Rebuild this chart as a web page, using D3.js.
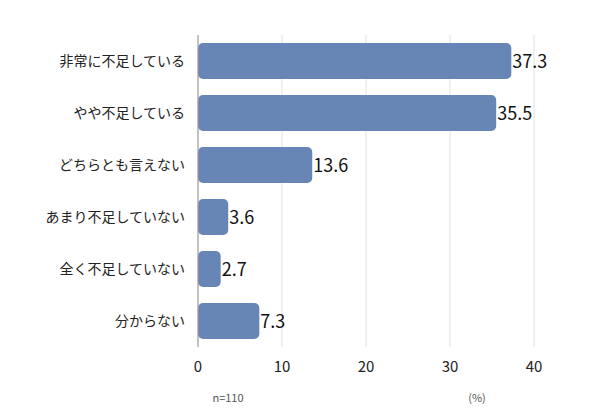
<!DOCTYPE html>
<html lang="ja">
<head>
<meta charset="UTF-8">
<script src="https://cdn.jsdelivr.net/npm/d3@7"></script>
<style>
  body { margin: 0; background: #fff; }
  text { font-family: "Noto Sans CJK JP", sans-serif; }
</style>
</head>
<body>
<script>
const categories = ['非常に不足している', 'やや不足している', 'どちらとも言えない', 'あまり不足していない', '全く不足していない', '分からない'];
const values = [37.3, 35.5, 13.6, 3.6, 2.7, 7.3];
const ticks = [0, 10, 20, 30, 40];

const svg = d3.select('body').append('svg').attr('width', 590).attr('height', 420);

// x: 0 at 198, 40 at 534
const x = d3.scaleLinear().domain([0, 40]).range([198, 534]);
const y = d3.scaleBand().domain(categories).range([35, 347]).paddingInner(0.31).paddingOuter(0.155);

// grid
svg.append('g').selectAll('line').data(ticks.slice(1)).join('line')
  .attr('x1', d => x(d)).attr('x2', d => x(d))
  .attr('y1', 35).attr('y2', 347)
  .attr('stroke', '#e2e2e2').attr('stroke-width', 1);

// bars
svg.append('g').selectAll('rect').data(values).join('rect')
  .attr('x', x(0))
  .attr('y', (d, i) => y(categories[i]))
  .attr('width', d => x(d) - x(0))
  .attr('height', y.bandwidth())
  .attr('rx', 5)
  .attr('fill', '#6785b5');

// y axis line
svg.append('line').attr('x1', x(0)).attr('x2', x(0)).attr('y1', 35).attr('y2', 347)
  .attr('stroke', '#999').attr('stroke-width', 1.2);

// value labels
svg.append('g').selectAll('text').data(values).join('text')
  .attr('x', d => x(d) + 1)
  .attr('y', (d, i) => y(categories[i]) + y.bandwidth() / 2 + 7)
  .attr('font-size', 18).attr('fill', '#111')
  .text(d => d.toFixed(1));

// category labels
svg.append('g').selectAll('text').data(categories).join('text')
  .attr('x', 185)
  .attr('y', d => y(d) + y.bandwidth() / 2 + 5)
  .attr('text-anchor', 'end').attr('font-size', 14).attr('fill', '#222')
  .text(d => d);

// x tick labels
svg.append('g').selectAll('text').data(ticks).join('text')
  .attr('x', d => x(d)).attr('y', 372)
  .attr('text-anchor', 'middle').attr('font-size', 15).attr('fill', '#222')
  .text(d => d);

svg.append('text').attr('x', 228).attr('y', 402).attr('text-anchor', 'middle')
  .attr('font-size', 11).attr('fill', '#555').text('n=110');
svg.append('text').attr('x', 477).attr('y', 402).attr('text-anchor', 'middle')
  .attr('font-size', 11).attr('fill', '#555').text('(%)');
</script>
</body>
</html>
